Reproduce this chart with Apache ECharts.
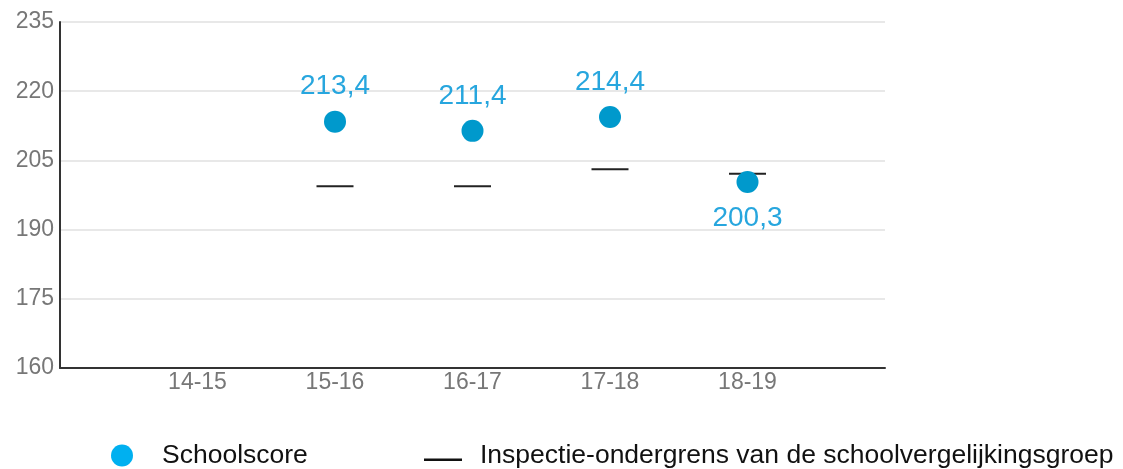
<!DOCTYPE html>
<html>
<head>
<meta charset="utf-8">
<script src="https://cdn.jsdelivr.net/npm/echarts@6/dist/echarts.min.js"></script>
<style>
  html, body { margin: 0; padding: 0; background: #fff; }
  #chart { width: 1123px; height: 469px; }
</style>
</head>
<body>
<div id="chart"></div>
<script>
var years = ['14-15', '15-16', '16-17', '17-18', '18-19'];
var schoolscore = [null, 213.4, 211.4, 214.4, 200.3];
var ondergrens = [null, 199.4, 199.4, 203.1, 202.1];
var labelPos = ['top', 'top', 'top', 'top', 'bottom'];

// lege categorie aan begin en eind zodat de jaren op de tick-posities staan
var categories = [''].concat(years, ['']);

var fmt = function (v) {
    return v.toFixed(1).replace('.', ',');
};

var scoreData = [];
var grensData = [];
for (var i = 0; i < years.length; i++) {
    if (schoolscore[i] != null) {
        scoreData.push({
            value: [i + 1, schoolscore[i]],
            label: { position: labelPos[i], distance: labelPos[i] === 'top' ? 10 : 11 }
        });
    }
    if (ondergrens[i] != null) {
        grensData.push([i + 1, ondergrens[i]]);
    }
}

var chart = echarts.init(document.getElementById('chart'));
var font = 'Liberation Sans, Arial, sans-serif';
// streepje in de legenda iets onder het midden van de tekst
var dashIcon = 'path://M0,0 L0,0 M0,14 L38,14 L38,16.5 L0,16.5 Z M0,22 L0,22';
var option = {
    animation: false,
    grid: {
        left: 60,
        right: 238,
        top: 22,
        bottom: 101
    },
    legend: [{
        data: [{ name: 'Schoolscore', itemStyle: { color: '#00b0f0' } }],
        icon: 'circle',
        left: 106,
        top: 437,
        itemWidth: 22,
        itemHeight: 22,
        textStyle: { fontFamily: font, fontSize: 26.5, color: '#111', padding: [0, 0, 6, 24] }
    }, {
        data: ['Inspectie-ondergrens van de schoolvergelijkingsgroep'],
        icon: dashIcon,
        left: 419,
        top: 437,
        itemWidth: 38,
        itemHeight: 22,
        itemStyle: { color: '#111' },
        textStyle: { fontFamily: font, fontSize: 26.5, color: '#111', padding: [0, 0, 6, 13] }
    }],
    xAxis: {
        type: 'category',
        data: categories,
        boundaryGap: false,
        axisLine: { lineStyle: { color: '#333', width: 2 } },
        axisTick: { show: false },
        axisLabel: { color: '#777', fontSize: 23, fontFamily: font, margin: 3, interval: 0 },
        splitLine: { show: false }
    },
    yAxis: {
        type: 'value',
        min: 160,
        max: 235,
        interval: 15,
        axisLine: { show: true, lineStyle: { color: '#333', width: 2 } },
        axisTick: { show: false },
        axisLabel: { color: '#777', fontSize: 23, fontFamily: font, margin: 6 },
        splitLine: { lineStyle: { color: '#e8e8e8', width: 2 } }
    },
    series: [{
        name: 'Inspectie-ondergrens van de schoolvergelijkingsgroep',
        type: 'scatter',
        symbol: 'rect',
        symbolSize: [37, 2],
        itemStyle: { color: '#222', opacity: 1 },
        z: 2,
        data: grensData
    }, {
        name: 'Schoolscore',
        type: 'scatter',
        symbolSize: 22,
        itemStyle: { color: '#0099cc', opacity: 1 },
        z: 3,
        label: {
            show: true,
            color: '#27a6de',
            fontSize: 28,
            fontFamily: font,
            formatter: function (p) { return fmt(p.value[1]); }
        },
        data: scoreData
    }]
};
chart.setOption(option);
</script>
</body>
</html>
